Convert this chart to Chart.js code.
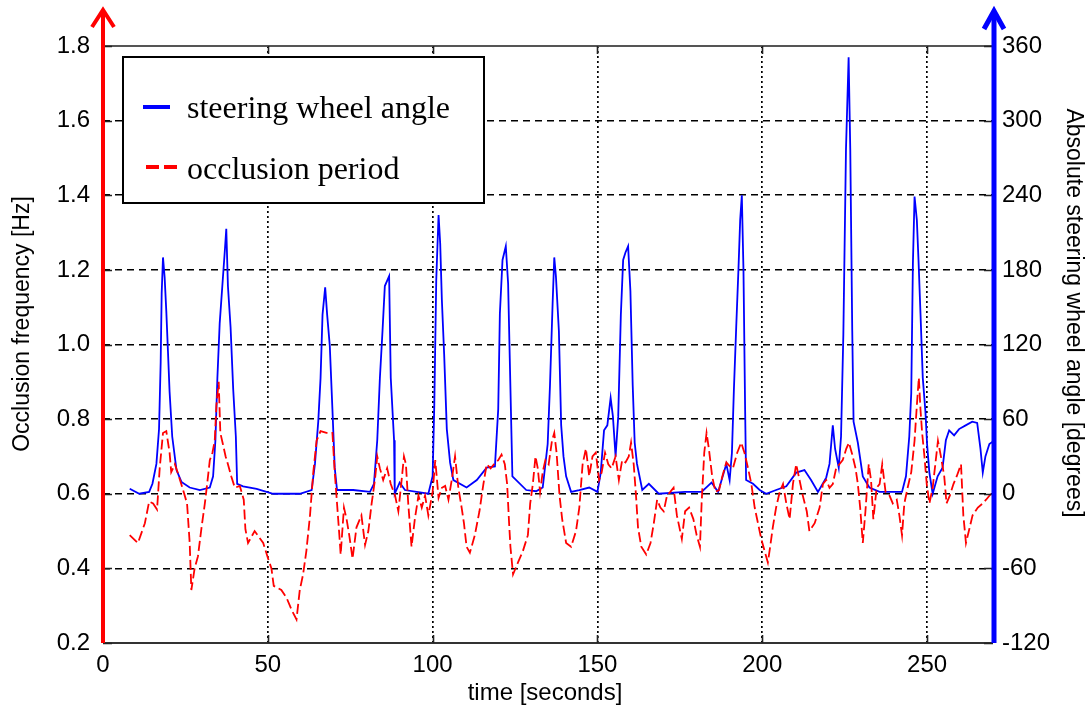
<!DOCTYPE html>
<html>
<head>
<meta charset="utf-8">
<script src="https://cdn.jsdelivr.net/npm/chart.js@4.4.1/dist/chart.umd.min.js"></script>
<style>
  html, body { margin: 0; padding: 0; background: #fff; }
  #wrap { width: 1088px; height: 710px; position: relative; }
</style>
</head>
<body>
<div id="wrap"><canvas id="chart" width="1088" height="710"></canvas></div>
<script>
// steering wheel angle (right axis, degrees)
const steerTime = [8.1, 11, 14, 15, 16.2, 17, 17.5, 17.8, 18.2, 18.7, 19.2, 19.7, 20.2, 21, 22.3, 23.8, 26.3, 29.4, 32.4, 33.4,
  34.1, 34.7, 35.4, 36.2, 37, 37.4, 37.9, 38.7, 39.5, 40.3, 40.7, 42.5, 46.6, 51.6, 59.7, 63.3, 64.3, 65.3, 66, 66.6,
  67.4, 68, 68.8, 69.6, 70.3, 71, 75.9, 81, 82.2, 83.2, 84, 84.8, 85.5, 86.8, 87.3, 88.3, 88.5, 90, 91.6, 98.7,
  100, 100.5, 101.1, 101.8, 102.3, 102.8, 103.5, 104.3, 105.3, 106.3, 110.3, 113.4, 116.4, 118.9, 119.9, 120.4, 121.2, 122.2, 122.9, 123.4,
  124.2, 128.4, 131.4, 133.4, 134.9, 135.6, 136.4, 136.9, 137.4, 138.3, 139, 139.7, 140.5, 142, 144.5, 147.5, 150, 151, 152, 153,
  154, 154.7, 155.5, 156.3, 157.1, 157.8, 158.5, 159.3, 160, 160.7, 161.3, 162, 163.6, 165.6, 168.6, 176.6, 181.6, 184.6, 186.6, 189.1,
  190.1, 190.8, 191.4, 192.1, 192.8, 193.3, 193.8, 194.3, 194.8, 195.1, 197.2, 199.2, 201.2, 204.2, 207.3, 210.3, 212.8, 214.8, 216.9, 219.4,
  220.4, 221.4, 222.1, 223.2, 223.9, 224.6, 225.4, 226.2, 226.7, 227.3, 227.7, 229, 230.5, 232.5, 235.6, 238.6, 242.4, 243.6, 244.6, 245.2,
  245.7, 246.2, 246.9, 247.4, 248, 248.7, 249.5, 250, 250.7, 251.7, 253.2, 254.7, 255.7, 256.7, 258.2, 259.7, 261.7, 263.7, 265.2, 266.2,
  266.9, 267.7, 268.9, 270];
const steerAngle = [4, 0, 1.5, 8, 24, 52, 106, 161, 190, 174, 147, 115, 82, 46, 19, 9.5, 5, 3, 5, 14,
  43, 93, 137, 167, 197, 213, 167, 134, 84, 46, 8, 6, 4, 0, 0, 3, 24, 58, 93, 144,
  166, 144, 119, 68, 21, 3, 3, 1.5, 8, 43, 93, 131, 167, 175, 93, 43, 0, 9, 3, 0,
  14, 71, 172, 224, 201, 156, 112, 52, 25, 11, 5, 11, 21, 22, 68, 145, 188, 199, 169, 109,
  14, 3, 2, 5, 40, 87, 153, 190, 175, 131, 55, 30, 14, 1.5, 3, 5, 1.5, 17, 51, 55,
  77, 62, 30, 62, 144, 188, 194, 199, 163, 87, 41, 24, 3, 8, 0, 1.5, 1.5, 9, 1.5, 24,
  11, 33, 84, 134, 182, 220, 240, 180, 68, 11, 8, 3, 0, 3, 6, 17, 19, 11, 1.5, 13,
  24, 55, 36, 21, 46, 128, 277, 351, 277, 131, 58, 41, 14, 5, 1.5, 1.5, 1.5, 14, 46, 81,
  185, 239, 220, 188, 145, 93, 66, 40, 17, 0, 14, 21, 43, 51, 47, 52, 55, 58, 57, 36,
  17, 30, 40, 42];

// occlusion period (left axis, Hz)
const occTime = [8.1, 10.6, 12.7, 14, 15.2, 16.4, 17.2, 18.2, 19.2, 20.2, 20.7, 21.8, 22.8, 24.1, 25.5, 26.3, 26.8, 27.8, 28.8, 29.9,
  30.9, 31.6, 32.4, 33.2, 33.9, 34.4, 35.1, 35.6, 36.4, 37.2, 37.9, 38.9, 40, 41.5, 42.7, 43.2, 44, 46, 48.6, 50.1,
  51.1, 51.8, 54.1, 55.7, 57.2, 58.7, 59.7, 60.7, 61.7, 62.8, 63.8, 64.8, 66, 67.8, 69.6, 70.3, 71, 71.7, 72.1, 73.1,
  73.9, 74.7, 75.7, 76.9, 78.4, 79.5, 80.5, 81.5, 82.5, 83.2, 84, 85, 86.2, 87.3, 88.6, 89.6, 90.6, 91.3, 91.9, 92.6,
  93.6, 94.6, 95.7, 96.7, 97.7, 98.7, 100, 100.8, 101.8, 102.8, 103.8, 104.8, 105.8, 106.8, 107.8, 108.8, 109.5, 110.3, 111.3, 112.8,
  114.2, 115.4, 116.4, 117.6, 118.6, 119.9, 120.9, 121.9, 122.6, 123.2, 123.6, 124.4, 125.9, 127.4, 128.9, 129.6, 130.4, 131.2, 131.9, 132.6,
  133.4, 134.2, 135.2, 136.2, 136.9, 137.6, 138.5, 139.3, 140.5, 142, 143.5, 144.5, 145.5, 146.5, 147.5, 148.5, 149.5, 150.5, 151.3, 152.3,
  153.3, 154.3, 155.5, 156.5, 157.5, 158.5, 159.5, 160.2, 161, 161.7, 162.3, 163.3, 164.8, 166.1, 167.1, 168.1, 169.1, 170.1, 171.1, 172.1,
  173.1, 174.1, 175.6, 176.6, 177.8, 179.1, 180.1, 181.1, 181.6, 182.4, 183.1, 183.8, 184.8, 185.8, 186.9, 187.9, 189.1, 190.1, 191.1, 192.4,
  193.6, 194.6, 195.7, 196.7, 197.7, 198.7, 199.7, 200.7, 201.7, 202.4, 203.2, 204.2, 205.3, 206.3, 207.3, 208.3, 209.3, 210.3, 211.3, 212.3,
  213.5, 214.3, 215.9, 217.4, 218.4, 219.4, 220.4, 221.4, 222.4, 223.4, 224.4, 225.5, 226.3, 227.3, 228.3, 229, 229.7, 230.5, 231.3, 232.3,
  233, 233.7, 234.7, 235.6, 236.4, 237.4, 238.6, 239.6, 240.8, 241.6, 242.4, 243.1, 244.1, 245.2, 246.2, 246.9, 247.5, 248, 248.5, 249.2,
  249.9, 250.7, 251.7, 252.5, 253.3, 254.2, 255.2, 255.9, 256.9, 258, 259, 260.3, 261, 261.8, 262.8, 263.8, 265.4, 266.9, 267.9, 269.4];
const occFreq = [0.489, 0.468, 0.521, 0.579, 0.574, 0.558, 0.668, 0.763, 0.768, 0.71, 0.658, 0.679, 0.653, 0.616, 0.574, 0.468, 0.342, 0.40, 0.432, 0.51,
  0.574, 0.626, 0.69, 0.71, 0.742, 0.837, 0.9, 0.763, 0.732, 0.7, 0.679, 0.647, 0.616, 0.621, 0.584, 0.505, 0.468, 0.5, 0.468, 0.426,
  0.4, 0.353, 0.342, 0.321, 0.289, 0.263, 0.342, 0.384, 0.447, 0.542, 0.658, 0.742, 0.768, 0.763, 0.763, 0.658, 0.574, 0.489, 0.437, 0.563,
  0.532, 0.489, 0.426, 0.51, 0.542, 0.463, 0.5, 0.574, 0.637, 0.7, 0.668, 0.637, 0.668, 0.626, 0.595, 0.553, 0.637, 0.7, 0.679, 0.574,
  0.458, 0.532, 0.595, 0.563, 0.595, 0.542, 0.605, 0.69, 0.589, 0.616, 0.621, 0.584, 0.637, 0.7, 0.616, 0.563, 0.521, 0.458, 0.442, 0.489,
  0.553, 0.626, 0.679, 0.668, 0.679, 0.69, 0.705, 0.679, 0.626, 0.521, 0.458, 0.384, 0.416, 0.447, 0.489, 0.574, 0.626, 0.7, 0.668, 0.605,
  0.658, 0.69, 0.679, 0.742, 0.763, 0.71, 0.595, 0.532, 0.468, 0.458, 0.5, 0.563, 0.679, 0.721, 0.647, 0.7, 0.71, 0.637, 0.658, 0.71,
  0.679, 0.668, 0.7, 0.637, 0.69, 0.684, 0.7, 0.737, 0.679, 0.595, 0.51, 0.458, 0.437, 0.468, 0.521, 0.584, 0.563, 0.553, 0.595, 0.605,
  0.616, 0.542, 0.479, 0.553, 0.563, 0.532, 0.489, 0.458, 0.574, 0.71, 0.763, 0.721, 0.647, 0.605, 0.61, 0.647, 0.684, 0.674, 0.668, 0.71,
  0.737, 0.71, 0.668, 0.626, 0.563, 0.521, 0.479, 0.447, 0.416, 0.458, 0.51, 0.563, 0.605, 0.626, 0.574, 0.532, 0.626, 0.679, 0.637, 0.595,
  0.553, 0.5, 0.521, 0.563, 0.626, 0.637, 0.616, 0.626, 0.668, 0.679, 0.69, 0.721, 0.737, 0.705, 0.668, 0.626, 0.563, 0.468, 0.553, 0.679,
  0.637, 0.532, 0.616, 0.626, 0.679, 0.605, 0.595, 0.574, 0.584, 0.542, 0.489, 0.574, 0.616, 0.658, 0.742, 0.837, 0.911, 0.826, 0.763, 0.7,
  0.626, 0.574, 0.616, 0.679, 0.742, 0.7, 0.647, 0.574, 0.595, 0.626, 0.647, 0.679, 0.542, 0.468, 0.505, 0.542, 0.563, 0.574, 0.584, 0.6];

const xTicks = [0, 50, 100, 150, 200, 250];
const leftTitle = 'Occlusion frequency [Hz]';
const rightTitle = 'Absolute steering wheel angle [degrees]';
const xTitle = 'time [seconds]';

const SANS = '"Liberation Sans", Arial, sans-serif';
const SERIF = '"Liberation Serif", "Times New Roman", serif';

const framePlugin = {
  id: 'frame',
  afterDatasetsDraw(chart) {
    const { ctx, chartArea: a, scales } = chart;
    const L = a.left, R = a.right, T = a.top, B = a.bottom;
    ctx.save();
    // box top / bottom
    ctx.lineWidth = 2;
    ctx.strokeStyle = '#555';
    ctx.beginPath();
    ctx.moveTo(L, T); ctx.lineTo(R, T);
    ctx.stroke();
    ctx.strokeStyle = '#333';
    ctx.beginPath();
    ctx.moveTo(L, B); ctx.lineTo(R, B);
    ctx.stroke();

    // inward tick marks
    ctx.lineWidth = 1.6;
    ctx.strokeStyle = '#222';
    xTicks.forEach((v) => {
      const px = Math.round(scales.x.getPixelForValue(v)) + 0.5;
      ctx.beginPath();
      ctx.moveTo(px, B); ctx.lineTo(px, B - 8);
      ctx.moveTo(px, T); ctx.lineTo(px, T + 8);
      ctx.stroke();
    });
    scales.y.ticks.forEach((t) => {
      const py = Math.round(scales.y.getPixelForValue(t.value)) + 0.5;
      ctx.beginPath();
      ctx.moveTo(L, py); ctx.lineTo(L + 9, py);
      ctx.moveTo(R, py); ctx.lineTo(R - 9, py);
      ctx.stroke();
    });

    // red left axis with arrow
    ctx.lineCap = 'butt';
    ctx.strokeStyle = '#ff0000';
    ctx.lineWidth = 4;
    ctx.beginPath();
    ctx.moveTo(L, B); ctx.lineTo(L, 10);
    ctx.stroke();
    ctx.lineJoin = 'miter';
    ctx.beginPath();
    ctx.moveTo(L - 11, 27); ctx.lineTo(L, 10); ctx.lineTo(L + 11, 27);
    ctx.stroke();

    // blue right axis with arrow
    ctx.strokeStyle = '#0000ff';
    ctx.lineWidth = 5;
    ctx.beginPath();
    ctx.moveTo(R + 1, B); ctx.lineTo(R + 1, 11);
    ctx.stroke();
    ctx.beginPath();
    ctx.moveTo(R - 9, 29); ctx.lineTo(R + 1, 11); ctx.lineTo(R + 11, 29);
    ctx.stroke();

    // legend box
    const ds = chart.data.datasets;
    ctx.fillStyle = '#fff';
    ctx.fillRect(123, 57, 361, 146);
    ctx.lineWidth = 2;
    ctx.strokeStyle = '#000';
    ctx.strokeRect(123, 57, 361, 146);
    ctx.lineWidth = 4;
    ctx.strokeStyle = ds[1].borderColor;
    ctx.beginPath();
    ctx.moveTo(143, 107); ctx.lineTo(170, 107);
    ctx.stroke();
    ctx.strokeStyle = ds[0].borderColor;
    ctx.beginPath();
    ctx.moveTo(146, 167); ctx.lineTo(159, 167);
    ctx.moveTo(164, 167); ctx.lineTo(177, 167);
    ctx.stroke();
    ctx.fillStyle = '#000';
    ctx.font = '32px ' + SERIF;
    ctx.textAlign = 'left';
    ctx.textBaseline = 'alphabetic';
    ctx.fillText(ds[1].label, 187, 118);
    ctx.fillText(ds[0].label, 187, 179);

    // axis titles
    ctx.font = '23px ' + SANS;
    ctx.textAlign = 'center';
    ctx.textBaseline = 'middle';
    ctx.save();
    ctx.translate(23, 324);
    ctx.rotate(-Math.PI / 2);
    ctx.fillText(leftTitle, 0, 0);
    ctx.restore();
    ctx.save();
    ctx.translate(1073, 313);
    ctx.rotate(Math.PI / 2);
    ctx.fillText(rightTitle, 0, 0);
    ctx.restore();
    ctx.font = '24px ' + SANS;
    ctx.fillText(xTitle, 545, 693);
    ctx.restore();
  }
};

new Chart(document.getElementById('chart'), {
  type: 'line',
  data: {
    datasets: [
      {
        label: 'occlusion period',
        data: occTime.map((t, i) => ({ x: t, y: occFreq[i] })),
        yAxisID: 'y',
        borderColor: '#ff0000',
        borderWidth: 1.8,
        borderDash: [10, 4],
        pointRadius: 0,
        tension: 0,
        order: 0
      },
      {
        label: 'steering wheel angle',
        data: steerTime.map((t, i) => ({ x: t, y: steerAngle[i] })),
        yAxisID: 'y1',
        borderColor: '#0000ff',
        borderWidth: 1.8,
        pointRadius: 0,
        tension: 0,
        order: 1
      }
    ]
  },
  options: {
    responsive: false,
    animation: false,
    layout: { padding: { top: 46, left: 0, right: 0, bottom: 0 } },
    plugins: {
      legend: { display: false },
      tooltip: { enabled: false }
    },
    scales: {
      x: {
        type: 'linear',
        min: 0,
        max: 270,
        afterBuildTicks: (s) => { s.ticks = xTicks.map((v) => ({ value: v })); },
        ticks: {
          color: '#000',
          font: { family: SANS, size: 24 },
          padding: 8,
          maxRotation: 0
        },
        grid: { color: '#000', lineWidth: 1.7, drawTicks: false },
        border: { display: false, dash: [2, 3] },
        afterFit: (s) => { s.height = 67; }
      },
      y: {
        position: 'left',
        min: 0.2,
        max: 1.8,
        ticks: {
          stepSize: 0.2,
          color: '#000',
          font: { family: SANS, size: 24 },
          padding: 13,
          callback: (v) => Number(v).toFixed(1)
        },
        grid: { color: '#000', lineWidth: 1.6, drawTicks: false },
        border: { display: false, dash: [7, 5] },
        afterFit: (s) => { s.width = 103; }
      },
      y1: {
        position: 'right',
        min: -120,
        max: 360,
        ticks: {
          stepSize: 60,
          color: '#000',
          font: { family: SANS, size: 24 },
          padding: 9
        },
        grid: { display: false, drawTicks: false },
        border: { display: false },
        afterFit: (s) => { s.width = 95; }
      }
    }
  },
  plugins: [framePlugin]
});
</script>
</body>
</html>
